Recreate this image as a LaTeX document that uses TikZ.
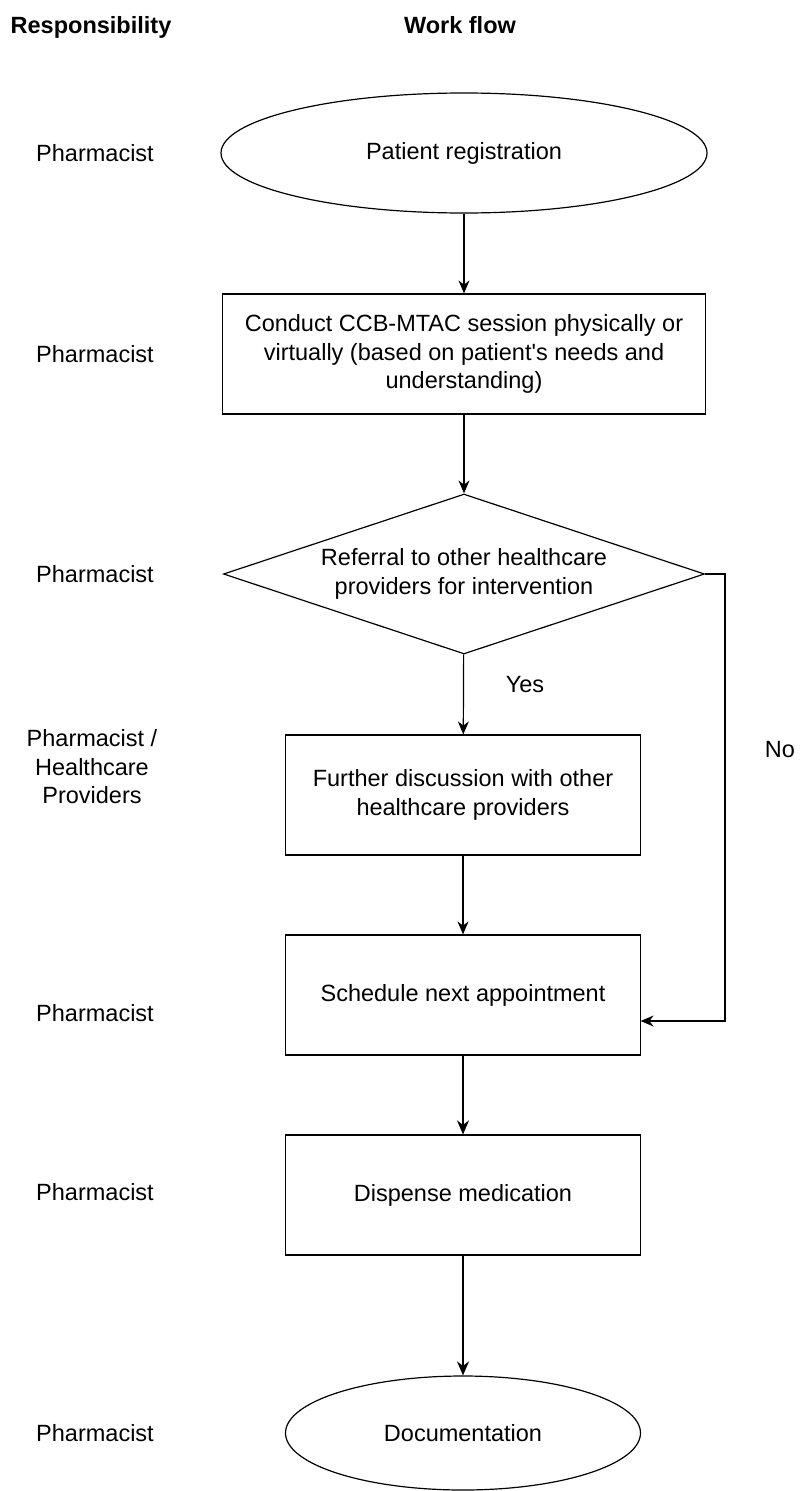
\documentclass[tikz,border=0pt]{standalone}
\usepackage{fontspec}
\setmainfont{Liberation Sans}
\usetikzlibrary{shapes.geometric,arrows.meta}
\begin{document}
\begin{tikzpicture}[x=1pt,y=-1pt,
  every node/.style={font=\fontsize{23.5}{28.5}\selectfont, align=center, inner sep=0pt},
  procbox/.style={draw, line width=1.2pt, minimum width=#1, minimum height=120pt},
  procbox/.default=355pt,
  termin/.style={draw, line width=1.2pt, ellipse},
  decis/.style={draw, line width=1.2pt, diamond, aspect=3, minimum width=481pt, minimum height=160pt},
  arr/.style={draw, line width=1.2pt, -{Stealth[length=13pt,width=11pt]}},
  arrb/.style={draw, line width=1.8pt, -{Stealth[length=14pt,width=12pt]}},
  lbl/.style={},
  hdr/.style={font=\fontsize{23.5}{28.5}\selectfont\bfseries}
]
\useasboundingbox (0,0) rectangle (804,1491);

% headers
\node[hdr] (hresp) at (91,27) {Responsibility};
\node[hdr] (hwork) at (460,25) {Work flow};

% workflow nodes
\node[termin, minimum width=486pt, minimum height=120pt] (reg) at (464,153) {Patient registration};
\node[procbox=483pt] (conduct) at (464,354) {Conduct CCB-MTAC session physically or\\virtually (based on patient\textquotesingle s needs and\\understanding)};
\node[decis] (dia) at (464,574) {Referral to other healthcare\\providers for intervention};
\node[procbox] (disc) at (463,795) {Further discussion with other\\healthcare providers};
\node[procbox] (sched) at (463,995) {Schedule next appointment};
\node[procbox] (disp) at (463,1195) {Dispense medication};
\node[termin, minimum width=355pt, minimum height=114pt] (doc) at (463,1433) {Documentation};

% responsibility labels
\node[lbl] (r1) at (95,153) {Pharmacist};
\node[lbl] (r2) at (95,354) {Pharmacist};
\node[lbl] (r3) at (95,574) {Pharmacist};
\node[lbl] (r4) at (92,767) {Pharmacist /\\Healthcare\\Providers};
\node[lbl] (r5) at (95,1013) {Pharmacist};
\node[lbl] (r6) at (95,1192) {Pharmacist};
\node[lbl] (r7) at (95,1433) {Pharmacist};

% connectors
\draw[arr] (reg) -- (conduct);
\draw[arr] (conduct) -- (dia);
\draw[arr] (dia) -- (disc);
\draw[arr] (disc) -- (sched);
\draw[arrb] (sched) -- (disp);
\draw[arrb] (disp) -- (doc);

\coordinate (nocorner) at (725,574);
\coordinate (noin) at (640.6,1021);
\draw[arr] (dia.east) -- (nocorner) |- (noin);

\node[lbl] (yes) at (525,685) {Yes};
\node[lbl] (no) at (780,750) {No};
\end{tikzpicture}
\end{document}
